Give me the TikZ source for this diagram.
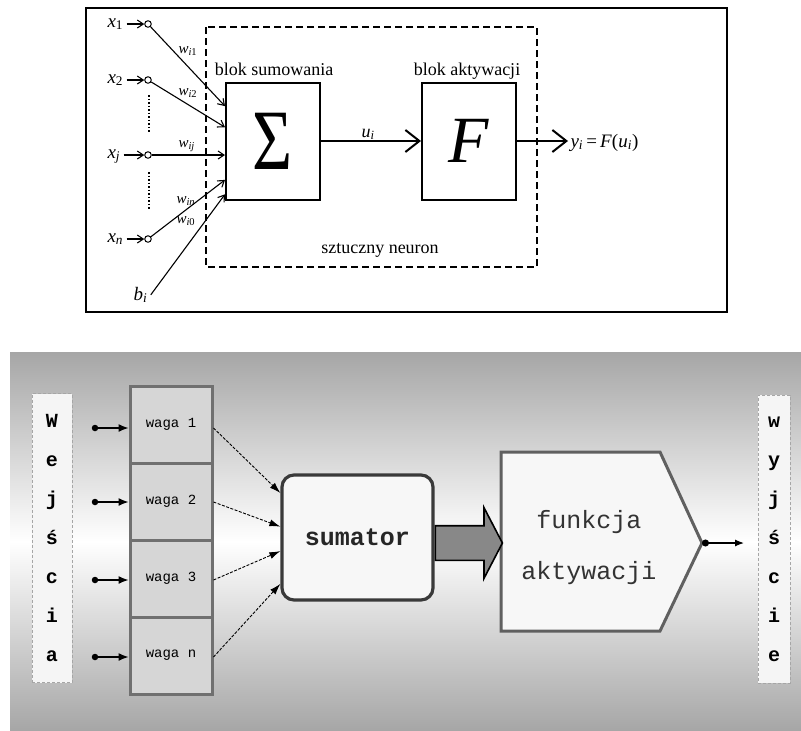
\documentclass[tikz,border=0pt]{standalone}
\usepackage{fontspec}
\usepackage{amsmath}
\usepackage{graphicx}
\setmainfont{Liberation Serif}
\setmonofont{Liberation Mono}
\usetikzlibrary{arrows.meta,shapes.arrows}

\definecolor{tlo}{RGB}{166,166,166}
\definecolor{wagaszary}{RGB}{214,214,214}
\definecolor{wagaramka}{RGB}{112,112,112}
\definecolor{sumramka}{RGB}{58,58,58}
\definecolor{jasny}{RGB}{247,247,247}
\definecolor{strzalka}{RGB}{136,136,136}
\definecolor{framka}{RGB}{96,96,96}

\newcommand{\idx}[2]{\textit{#1}\textsubscript{#2}}

\begin{document}
\begin{tikzpicture}[x=1pt,y=-1pt,
  wezel/.style={shape=circle,draw=black,line width=1pt,inner sep=0pt,minimum size=6.5pt},
  blok/.style={draw=black,line width=2pt,minimum width=94pt,minimum height=117pt,inner sep=0pt},
  opis/.style={anchor=base,font=\fontsize{18}{20}\selectfont},
  wlab/.style={anchor=base west,font=\fontsize{15}{16}\selectfont},
  xlab/.style={anchor=base west,font=\fontsize{19}{20}\selectfont},
  wej/.style={line width=1.1pt,-{Straight Barb[length=6pt,width=8pt]}},
  gruba/.style={line width=2.4pt,-{Straight Barb[length=14pt,width=22pt,line width=2pt]}},
  kol/.style={draw=gray!70,dash pattern=on 3pt off 2pt,fill=white!96!black,line width=0.8pt,align=center,inner sep=0pt,font=\ttfamily\bfseries\fontsize{20}{39}\selectfont},
  waga/.style={draw=wagaramka,line width=3pt,fill=wagaszary,minimum width=82pt,minimum height=77pt,font=\ttfamily\fontsize{14}{16}\selectfont},
  kropka/.style={shape=circle,fill=black,inner sep=0pt,minimum size=6.5pt},
  we/.style={line width=1.3pt,-{Latex[length=10pt,width=8pt]}},
  waz/.style={line width=0.9pt,dash pattern=on 3pt off 1.5pt,-{Latex[length=11pt,width=7pt]}},
  sumator/.style={draw=sumramka,line width=3.2pt,rounded corners=12pt,fill=jasny,minimum width=151pt,minimum height=125pt,font=\ttfamily\bfseries\fontsize{25}{28}\selectfont,text=black!85},
  wielka/.style={single arrow,draw=black,line width=1.6pt,fill=strzalka,minimum height=67pt,minimum width=69pt,inner xsep=0pt,inner ysep=16.5pt,single arrow head extend=18pt,single arrow tip angle=125},
  fbox/.style={draw=framka,line width=3pt,fill=jasny},
  ftxt/.style={align=center,font=\ttfamily\fontsize{25}{51}\selectfont,text=black!80},
  wy/.style={line width=1.2pt,{Circle[length=7pt]}-{Latex[length=9pt,width=7pt]}}]
\useasboundingbox (0,0) rectangle (801,731);

\draw[line width=1.6pt] (86,8) rectangle (727,312);
\draw[line width=1.3pt,dash pattern=on 7pt off 4pt] (206,27) rectangle (537,267);

\node[blok] (sig) at (273,141) {\fontsize{86}{86}\selectfont\scalebox{0.8}[1]{Σ}};
\node[blok] (akt) at (469,141) {\fontsize{66}{66}\selectfont\textit{F}};
\node[opis] (lsum) at (274,75) {blok sumowania};
\node[opis] (lakt) at (467,75) {blok aktywacji};
\node[opis] (lneu) at (380,253) {sztuczny neuron};

\node[wezel] (c1) at (148,24) {};
\node[wezel] (c2) at (148,80) {};
\node[wezel] (cj) at (148,155) {};
\node[wezel] (cn) at (148,239) {};
\node[xlab] (lx1) at (104,27) {\idx{x}{1}};
\node[xlab] (lx2) at (104,83) {\idx{x}{2}};
\node[xlab] (lxj) at (104,158) {\idx{x}{\textit{j}}};
\node[xlab] (lxn) at (104,242) {\idx{x}{\textit{n}}};
\node[xlab] (lb) at (130,300) {\idx{b}{\textit{i}}};

\node[wlab] (w1) at (175,53) {\idx{w}{\textit{i}1}};
\node[wlab] (w2) at (175,95) {\idx{w}{\textit{i}2}};
\node[wlab] (wj) at (175,147) {\idx{w}{\textit{ij}}};
\node[wlab] (wn) at (173,203) {\idx{w}{\textit{in}}};
\node[wlab] (w0) at (173,223) {\idx{w}{\textit{i}0}};

\draw[line width=1.8pt,dash pattern=on 1.5pt off 2pt] (149,95) -- (149,132);
\draw[line width=1.8pt,dash pattern=on 1.5pt off 2pt] (149,172) -- (149,210);

\path (c1 -| lx1.east) edge[wej] (c1.west);
\path (c2 -| lx2.east) edge[wej] (c2.west);
\path (cj -| lxj.east) edge[wej] (cj.west);
\path (cn -| lxn.east) edge[wej] (cn.west);

\path (c1) edge[wej] (sig.144);
\path (c2) edge[wej] (sig.164);
\path (cj) edge[wej] (cj -| sig.west);
\path (cn) edge[wej] (sig.219);
\path (lb.east) edge[wej] (sig.228);

\coordinate (yout) at (568,141);
\node[anchor=base] (lu) at (368,137) {\fontsize{18}{18}\selectfont\idx{u}{\textit{i}}};
\node[anchor=base west] (ly) at (567,147) {\fontsize{19}{20}\selectfont\idx{y}{\textit{i}}\,=\,\textit{F}(\idx{u}{\textit{i}})};
\path (sig.east) edge[gruba] (akt.west);
\path (akt.east) edge[gruba] (yout);

\shade[top color=tlo,bottom color=tlo,middle color=white] (10,352) rectangle (801,731);

\node[kol,minimum width=40pt,minimum height=289pt] (wej) at (52,538) {W\\e\\j\\ś\\c\\i\\a};
\node[kol,minimum width=32pt,minimum height=288pt] (wyj) at (774,539) {w\\y\\j\\ś\\c\\i\\e};

\node[waga] (g1) at (171,424.5) {waga 1};
\node[waga] (g2) at (171,501.5) {waga 2};
\node[waga] (g3) at (171,578.5) {waga 3};
\node[waga] (gn) at (171,655.5) {waga n};

\node[kropka] (i1) at (95,428) {};
\node[kropka] (i2) at (95,502) {};
\node[kropka] (i3) at (95,580) {};
\node[kropka] (in) at (95,657) {};
\path (i1) edge[we] (i1 -| g1.west);
\path (i2) edge[we] (i2 -| g2.west);
\path (i3) edge[we] (i3 -| g3.west);
\path (in) edge[we] (in -| gn.west);

\node[sumator] (sum) at (357.5,537.5) {sumator};
\path (i1 -| g1.east) edge[waz] (sum.150);
\path (i2 -| g2.east) edge[waz] (sum.172);
\path (i3 -| g3.east) edge[waz] (sum.190);
\path (in -| gn.east) edge[waz] (sum.211);

\coordinate (ftip) at (702,543);
\coordinate (fout) at (744,543);
\draw[fbox] (501,452) -- (660,452) -- (ftip) -- (660,631) -- (501,631) -- cycle;
\node[ftxt] (fa) at (589,548) {funkcja\\aktywacji};
\node[wielka,anchor=tail] (str) at (sum.east |- ftip) {};
\path (ftip) edge[wy] (fout);
\end{tikzpicture}
\end{document}
